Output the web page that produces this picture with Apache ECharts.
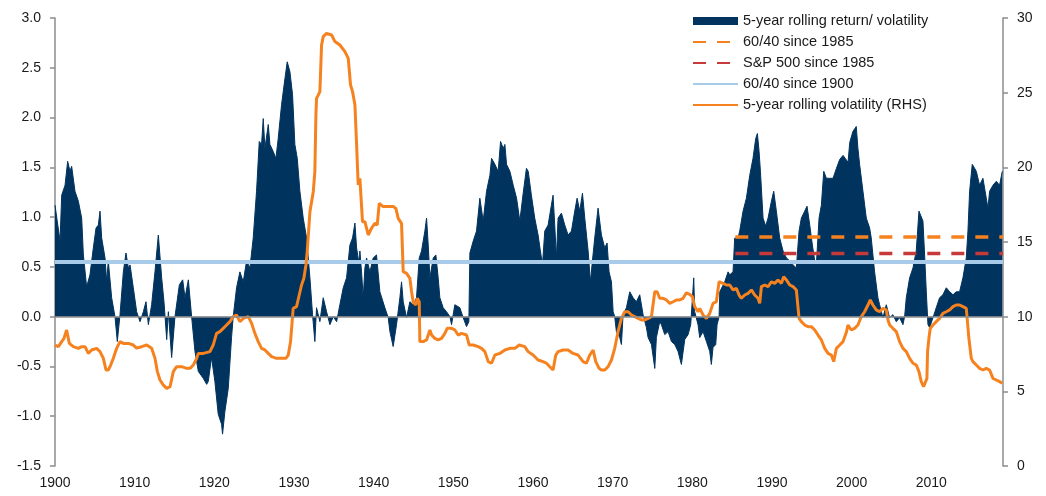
<!DOCTYPE html>
<html>
<head>
<meta charset="utf-8">
<script src="https://cdn.jsdelivr.net/npm/echarts@6/dist/echarts.min.js"></script>
<style>
  html, body { margin: 0; padding: 0; background: #fff; }
  #chart { width: 1046px; height: 496px; }
</style>
</head>
<body>
<div id="chart"></div>
<script>
// 5-year rolling return / volatility (left axis)
const retYears = [
  1900.00, 1900.21, 1900.63, 1900.84, 1901.26, 1901.59, 1901.88, 1902.09, 1902.30, 1902.51,
  1902.93, 1903.14, 1903.35, 1903.56, 1903.97, 1904.39, 1904.81, 1905.15, 1905.44, 1905.65,
  1905.86, 1906.28, 1906.49, 1906.69, 1907.11, 1907.53, 1907.82, 1908.16, 1908.58, 1908.91,
  1909.21, 1909.42, 1909.83, 1910.25, 1910.67, 1911.09, 1911.42, 1911.72, 1912.13, 1912.55,
  1912.97, 1913.39, 1913.68, 1914.02, 1914.23, 1914.64, 1915.06, 1915.61, 1916.03, 1916.32,
  1916.74, 1917.15, 1917.57, 1917.99, 1918.62, 1919.04, 1919.24, 1919.65, 1920.07, 1920.49,
  1920.91, 1921.03, 1921.33, 1921.75, 1922.16, 1922.37, 1922.79, 1923.21, 1923.63, 1924.05,
  1924.47, 1924.88, 1925.30, 1925.64, 1925.93, 1926.14, 1926.35, 1926.77, 1926.98, 1927.39,
  1927.73, 1928.02, 1928.44, 1928.86, 1929.15, 1929.49, 1929.82, 1930.11, 1930.41, 1930.74,
  1931.16, 1931.58, 1932.00, 1932.33, 1932.62, 1932.83, 1933.25, 1933.67, 1934.09, 1934.51,
  1934.93, 1935.35, 1935.76, 1936.18, 1936.60, 1937.02, 1937.35, 1937.65, 1937.86, 1938.19,
  1938.27, 1938.48, 1938.69, 1938.90, 1939.11, 1939.53, 1939.94, 1940.36, 1940.78, 1941.41,
  1941.83, 1942.04, 1942.45, 1942.87, 1943.29, 1943.50, 1943.71, 1944.13, 1944.55, 1944.96,
  1945.38, 1945.72, 1946.01, 1946.43, 1946.64, 1946.85, 1947.06, 1947.48, 1947.81, 1948.10,
  1948.31, 1948.73, 1949.15, 1949.57, 1949.78, 1950.19, 1950.40, 1950.82, 1951.24, 1951.66,
  1951.95, 1952.08, 1952.50, 1952.91, 1953.33, 1953.75, 1954.17, 1954.59, 1954.80, 1955.22,
  1955.63, 1955.93, 1956.26, 1956.47, 1956.68, 1957.10, 1957.52, 1957.94, 1958.35, 1958.77,
  1959.18, 1959.40, 1959.80, 1960.22, 1960.64, 1960.93, 1961.19, 1961.48, 1961.90, 1962.31,
  1962.52, 1962.73, 1962.94, 1963.15, 1963.57, 1963.99, 1964.41, 1964.83, 1965.24, 1965.54,
  1965.87, 1966.21, 1966.50, 1966.92, 1967.21, 1967.46, 1967.75, 1968.17, 1968.59, 1969.01,
  1969.30, 1969.55, 1969.85, 1970.06, 1970.26, 1970.47, 1970.89, 1971.10, 1971.31, 1971.73,
  1972.15, 1972.57, 1972.98, 1973.40, 1973.82, 1974.24, 1974.45, 1974.87, 1975.29, 1975.49,
  1975.91, 1976.12, 1976.54, 1976.96, 1977.38, 1977.80, 1978.21, 1978.63, 1979.05, 1979.47,
  1979.80, 1980.18, 1980.30, 1980.72, 1980.93, 1981.35, 1981.77, 1982.19, 1982.39, 1982.60,
  1982.94, 1983.11, 1983.36, 1983.45, 1983.65, 1984.07, 1984.49, 1984.70, 1985.11, 1985.32,
  1985.74, 1985.95, 1986.37, 1986.79, 1987.21, 1987.62, 1987.96, 1988.17, 1988.38, 1988.55,
  1988.88, 1989.21, 1989.51, 1989.93, 1990.22, 1990.55, 1990.97, 1991.39, 1991.81, 1992.23,
  1992.65, 1993.06, 1993.40, 1993.69, 1994.11, 1994.40, 1994.74, 1995.07, 1995.37, 1995.57,
  1995.91, 1996.20, 1996.50, 1996.83, 1997.25, 1997.67, 1998.09, 1998.51, 1998.92, 1999.13,
  1999.55, 1999.76, 2000.16, 2000.58, 2000.79, 2001.00, 2001.42, 2001.84, 2002.26, 2002.46,
  2002.88, 2003.30, 2003.51, 2003.93, 2004.35, 2004.77, 2005.18, 2005.60, 2006.02, 2006.44,
  2006.65, 2006.86, 2007.28, 2007.70, 2008.11, 2008.45, 2008.62, 2008.95, 2009.16, 2009.37,
  2009.58, 2009.79, 2010.21, 2010.62, 2011.04, 2011.46, 2011.88, 2012.30, 2012.72, 2013.13,
  2013.55, 2013.97, 2014.39, 2014.60, 2014.81, 2015.14, 2015.44, 2015.65, 2016.06, 2016.48,
  2016.90, 2017.11, 2017.32, 2017.74, 2018.16, 2018.57, 2018.91
];
const retValues = [
  1.12, 1.10, 0.76, 1.22, 1.32, 1.56, 1.46, 1.51, 1.49, 1.26,
  1.16, 1.14, 0.99, 0.62, 0.30, 0.42, 0.69, 0.89, 0.92, 1.06,
  0.79, 0.59, 0.35, 0.56, 0.19, 0.00, -0.25, 0.02, 0.45, 0.64,
  0.49, 0.52, 0.29, 0.05, -0.05, 0.05, 0.15, -0.08, 0.12, 0.45,
  0.82, 0.39, 0.15, -0.23, 0.05, -0.41, 0.00, 0.32, 0.37, 0.19,
  0.37, 0.00, -0.35, -0.55, -0.62, -0.68, -0.65, -0.41, -0.65, -0.98,
  -1.08, -1.18, -0.95, -0.72, -0.21, 0.00, 0.29, 0.45, 0.35, 0.56,
  0.49, 0.79, 1.26, 1.76, 1.73, 1.99, 1.69, 1.93, 1.73, 1.66,
  1.59, 1.79, 2.13, 2.39, 2.56, 2.46, 2.23, 1.73, 1.59, 1.26,
  0.99, 0.79, 0.39, 0.02, -0.25, 0.09, -0.05, 0.19, 0.05, -0.08,
  0.00, -0.05, 0.12, 0.29, 0.39, 0.72, 0.79, 0.94, 0.69, 0.52,
  0.66, 0.45, 0.19, 0.49, 0.59, 0.45, 0.59, 0.62, 0.25, 0.09,
  -0.01, -0.15, -0.30, -0.08, 0.19, 0.35, 0.15, -0.01, 0.15, 0.12,
  0.19, 0.59, 0.66, 0.86, 0.99, 0.72, 0.39, 0.59, 0.62, 0.39,
  0.19, 0.09, 0.05, 0.00, -0.08, 0.12, 0.14, 0.09, -0.01, -0.10,
  -0.05, 0.64, 0.76, 0.86, 1.19, 0.96, 1.26, 1.42, 1.59, 1.53,
  1.46, 1.76, 1.69, 1.73, 1.53, 1.46, 1.32, 1.19, 0.96, 1.24,
  1.49, 1.46, 1.22, 0.99, 0.82, 0.66, 0.52, 0.86, 0.92, 1.12,
  1.22, 0.92, 0.59, 0.99, 1.04, 0.92, 0.82, 0.86, 1.06, 1.19,
  1.06, 1.24, 0.99, 0.66, 0.35, 0.56, 0.79, 1.09, 0.82, 0.69,
  0.74, 0.45, 0.35, 0.05, 0.00, -0.15, -0.21, -0.28, 0.02, 0.09,
  0.25, 0.19, 0.15, 0.22, 0.02, -0.11, -0.21, -0.28, -0.52, -0.21,
  -0.05, -0.08, -0.18, -0.15, -0.25, -0.28, -0.35, -0.48, -0.23, -0.18,
  -0.08, 0.39, 0.05, -0.08, -0.21, -0.15, -0.25, -0.35, -0.48, -0.31,
  -0.28, -0.08, 0.00, 0.25, 0.25, 0.35, 0.45, 0.42, 0.45, 0.79,
  0.79, 0.86, 1.06, 1.19, 1.42, 1.59, 1.79, 1.84, 1.66, 1.46,
  0.99, 0.91, 0.99, 1.16, 1.26, 1.06, 0.79, 0.66, 0.59, 0.56,
  0.52, 0.49, 0.86, 0.99, 1.06, 1.11, 0.92, 0.72, 0.56, 0.52,
  0.99, 1.12, 1.46, 1.39, 1.39, 1.39, 1.49, 1.58, 1.62, 1.64,
  1.55, 1.75, 1.86, 1.91, 1.69, 1.53, 1.26, 0.99, 0.89, 0.79,
  0.45, 0.19, 0.12, -0.01, 0.12, -0.01, 0.02, -0.05, -0.01, -0.08,
  0.00, 0.19, 0.39, 0.49, 0.66, 1.06, 1.07, 0.96, 0.62, 0.25,
  -0.08, -0.11, -0.01, 0.09, 0.19, 0.22, 0.29, 0.25, 0.22, 0.25,
  0.25, 0.39, 0.59, 0.86, 1.26, 1.53, 1.49, 1.46, 1.32, 1.39,
  1.19, 1.09, 1.26, 1.32, 1.36, 1.32, 1.46
];

// 5-year rolling volatility (right axis, %)
const volYears = [
  1900.00, 1900.42, 1900.84, 1901.13, 1901.46, 1901.80, 1902.30, 1902.93, 1903.35, 1903.77,
  1904.18, 1904.60, 1905.23, 1905.65, 1906.07, 1906.40, 1906.69, 1906.99, 1907.32, 1907.74,
  1908.16, 1908.58, 1909.21, 1909.83, 1910.25, 1910.88, 1911.51, 1912.13, 1912.55, 1912.85,
  1913.18, 1913.60, 1914.02, 1914.44, 1914.85, 1915.27, 1915.90, 1916.53, 1916.95, 1917.36,
  1917.78, 1917.99, 1918.62, 1918.82, 1919.45, 1919.86, 1920.28, 1920.70, 1921.12, 1921.54,
  1921.96, 1922.37, 1922.79, 1923.21, 1923.63, 1924.26, 1924.68, 1925.09, 1925.51, 1925.93,
  1926.35, 1926.77, 1927.19, 1927.81, 1928.44, 1928.98, 1929.28, 1929.57, 1929.90, 1930.32,
  1930.66, 1930.95, 1931.24, 1931.50, 1931.66, 1932.00, 1932.42, 1932.62, 1932.75, 1932.83,
  1933.04, 1933.25, 1933.46, 1933.67, 1934.09, 1934.72, 1935.14, 1935.76, 1936.39, 1936.81,
  1937.10, 1937.35, 1937.65, 1937.86, 1938.06, 1938.27, 1938.48, 1938.60, 1938.90, 1939.32,
  1939.73, 1940.15, 1940.45, 1940.70, 1941.20, 1941.62, 1942.04, 1942.45, 1942.79, 1943.08,
  1943.50, 1943.71, 1944.13, 1944.55, 1944.76, 1944.96, 1945.30, 1945.47, 1945.72, 1945.80,
  1946.22, 1946.64, 1947.06, 1947.27, 1947.68, 1948.10, 1948.52, 1948.94, 1949.23, 1949.78,
  1950.19, 1950.61, 1951.03, 1951.66, 1952.00, 1952.50, 1953.12, 1953.54, 1953.96, 1954.38,
  1954.80, 1955.22, 1955.84, 1956.47, 1957.10, 1957.73, 1958.27, 1958.97, 1959.39, 1960.01,
  1960.64, 1961.27, 1961.69, 1962.11, 1962.52, 1962.86, 1963.15, 1963.78, 1964.41, 1965.03,
  1965.66, 1966.29, 1966.71, 1967.13, 1967.55, 1967.88, 1968.30, 1968.59, 1969.01, 1969.43,
  1969.85, 1970.26, 1970.68, 1971.10, 1971.52, 1971.94, 1972.36, 1972.77, 1973.19, 1973.61,
  1974.03, 1974.45, 1974.87, 1975.29, 1975.58, 1975.91, 1976.33, 1976.75, 1977.17, 1977.59,
  1978.00, 1978.42, 1978.84, 1979.26, 1979.67, 1980.01, 1980.30, 1980.72, 1980.93, 1981.35,
  1981.77, 1982.19, 1982.60, 1983.02, 1983.36, 1983.86, 1984.28, 1984.70, 1985.11, 1985.53,
  1985.87, 1986.16, 1986.58, 1987.00, 1987.42, 1987.83, 1988.25, 1988.46, 1988.67, 1989.09,
  1989.51, 1989.93, 1990.34, 1990.76, 1991.18, 1991.47, 1991.81, 1992.23, 1992.65, 1993.06,
  1993.40, 1993.69, 1994.11, 1994.53, 1994.95, 1995.37, 1995.78, 1996.20, 1996.62, 1997.04,
  1997.46, 1997.75, 1998.09, 1998.51, 1998.92, 1999.34, 1999.54, 1999.76, 1999.95, 2000.37,
  2000.79, 2001.21, 2001.63, 2002.05, 2002.34, 2002.67, 2003.09, 2003.51, 2003.93, 2004.35,
  2004.56, 2004.77, 2005.18, 2005.60, 2006.02, 2006.44, 2006.86, 2007.28, 2007.70, 2008.11,
  2008.45, 2008.74, 2009.03, 2009.28, 2009.45, 2009.53, 2009.70, 2009.87, 2010.21, 2010.62,
  2011.04, 2011.46, 2011.88, 2012.30, 2012.72, 2013.13, 2013.55, 2013.97, 2014.39, 2014.72,
  2015.02, 2015.23, 2015.65, 2016.06, 2016.48, 2016.90, 2017.32, 2017.74, 2018.16, 2018.57,
  2018.91
];
const volValues = [
  8.10, 7.99, 8.33, 8.55, 9.11, 8.21, 7.99, 7.88, 7.99, 7.99,
  7.54, 7.77, 7.88, 7.66, 7.21, 6.43, 6.43, 6.76, 7.21, 7.88,
  8.33, 8.21, 8.21, 8.10, 7.90, 7.99, 8.10, 7.88, 7.21, 6.32,
  5.76, 5.42, 5.20, 5.31, 6.32, 6.65, 6.65, 6.54, 6.54, 6.76,
  7.21, 7.54, 7.54, 7.43, 7.66, 8.10, 8.88, 9.00, 9.22, 9.44,
  9.67, 10.00, 10.11, 9.67, 9.89, 10.00, 9.55, 8.88, 8.33, 7.88,
  7.77, 7.54, 7.32, 7.21, 7.21, 7.21, 7.43, 8.33, 10.56, 10.67,
  11.45, 12.12, 12.57, 13.46, 14.35, 17.03, 18.37, 19.71, 23.50, 24.62,
  24.84, 25.07, 28.19, 28.75, 28.97, 28.86, 28.42, 28.19, 27.75, 27.30,
  25.51, 25.07, 24.17, 21.50, 18.82, 19.26, 19.38, 16.36, 16.36, 15.47,
  15.92, 16.25, 16.14, 17.59, 17.37, 17.37, 17.37, 17.37, 17.25, 16.58,
  16.25, 13.01, 12.90, 12.57, 11.67, 11.00, 10.78, 11.23, 11.00, 8.33,
  8.33, 8.44, 9.11, 8.77, 8.55, 8.44, 8.55, 8.88, 9.22, 9.22,
  9.11, 8.77, 8.88, 8.77, 8.10, 8.10, 7.99, 7.88, 7.66, 6.99,
  6.88, 7.43, 7.54, 7.77, 7.88, 7.88, 8.10, 7.99, 7.66, 7.43,
  7.10, 6.99, 6.88, 6.65, 6.43, 7.43, 7.66, 7.77, 7.77, 7.54,
  7.43, 6.99, 6.88, 7.43, 7.77, 6.99, 6.54, 6.43, 6.43, 6.65,
  7.10, 7.88, 9.00, 9.89, 10.33, 10.33, 10.11, 10.00, 9.89, 9.78,
  9.78, 9.89, 10.00, 11.67, 11.67, 11.23, 11.23, 11.12, 10.89, 11.00,
  11.12, 11.12, 11.23, 11.60, 11.50, 11.34, 10.67, 10.33, 10.56, 10.11,
  9.89, 10.22, 10.89, 11.00, 12.34, 12.23, 12.12, 12.12, 11.79, 11.90,
  11.45, 11.23, 11.45, 11.56, 11.79, 11.45, 11.23, 10.89, 12.01, 12.12,
  12.01, 12.34, 12.23, 12.46, 12.23, 12.68, 12.46, 12.12, 12.01, 11.79,
  9.89, 9.67, 9.44, 9.33, 9.33, 9.11, 8.77, 8.44, 7.88, 7.54,
  7.43, 6.99, 7.88, 8.10, 8.33, 8.95, 9.44, 9.55, 9.11, 9.22,
  9.44, 10.00, 10.33, 10.78, 11.12, 10.78, 10.45, 10.33, 10.56, 10.45,
  9.78, 9.44, 9.22, 9.00, 8.33, 7.88, 7.66, 7.21, 6.88, 6.76,
  6.32, 5.65, 5.31, 5.31, 5.87, 7.66, 8.55, 9.22, 9.44, 9.67,
  9.89, 10.22, 10.33, 10.45, 10.67, 10.78, 10.78, 10.67, 10.56, 8.55,
  7.21, 6.99, 6.76, 6.54, 6.43, 6.54, 6.43, 5.87, 5.76, 5.65,
  5.54
];

// averages (left axis)
const avgNames = ['60/40 since 1985', 'S&P 500 since 1985', '60/40 since 1900'];
const avgValues = [0.80, 0.635, 0.55];
const avgFrom = [1985.4, 1985.4, 1900];
const avgTo = 2019;

const retName = '5-year rolling return/ volatility';
const volName = '5-year rolling volatility (RHS)';

const FONT = '"Liberation Sans", Arial, sans-serif';
const axisGray = '#8c8c8c';

const myChart = echarts.init(document.getElementById('chart'));

const avgStyles = [
  { color: '#f5821f', width: 3.5, type: [13, 11] },
  { color: '#c63a3a', width: 3.5, type: [13, 11] },
  { color: '#a8cbea', width: 4, type: 'solid' }
];

const avgSeries = avgNames.map((name, i) => ({
  name: name,
  type: 'line',
  symbol: 'none',
  silent: true,
  data: [[avgFrom[i], avgValues[i]], [avgTo, avgValues[i]]],
  lineStyle: avgStyles[i],
  itemStyle: { color: avgStyles[i].color }
}));

// hide the circle the legend puts on line icons
const noDot = { opacity: 0 };

myChart.setOption({
  animation: false,
  textStyle: { fontFamily: FONT },
  grid: { left: 55, right: 43, top: 18, bottom: 30 },
  legend: {
    orient: 'vertical',
    left: 692,
    top: 13,
    padding: 0,
    itemWidth: 45,
    itemHeight: 8,
    itemGap: 5,
    textStyle: { fontSize: 14.5, color: '#1a1a1a', fontFamily: FONT, lineHeight: 16 },
    data: [
      { name: retName, icon: 'rect' },
      { name: avgNames[0], itemStyle: noDot },
      { name: avgNames[1], itemStyle: noDot },
      { name: avgNames[2], itemStyle: noDot },
      { name: volName, itemStyle: noDot }
    ]
  },
  xAxis: {
    type: 'value',
    min: 1900,
    max: 2019,
    interval: 10,
    axisLine: { show: false, onZero: false },
    axisTick: { show: false },
    splitLine: { show: false },
    axisLabel: {
      color: '#1a1a1a', fontSize: 14, margin: 10, showMaxLabel: false,
      formatter: v => String(v)
    }
  },
  yAxis: [
    {
      type: 'value',
      min: -1.5,
      max: 3.0,
      interval: 0.5,
      axisLine: { show: true, lineStyle: { color: axisGray, width: 1.5 } },
      axisTick: { show: true, length: 5, lineStyle: { color: axisGray, width: 1.5 } },
      splitLine: { show: false },
      axisLabel: { color: '#1a1a1a', fontSize: 14, margin: 14, formatter: v => v.toFixed(1) }
    },
    {
      type: 'value',
      min: 0,
      max: 30,
      interval: 5,
      position: 'right',
      axisLine: { show: true, lineStyle: { color: axisGray, width: 1.5 } },
      axisTick: { show: true, length: 5, lineStyle: { color: axisGray, width: 1.5 } },
      splitLine: { show: false },
      axisLabel: { color: '#1a1a1a', fontSize: 14, margin: 14 }
    }
  ],
  series: [
    {
      name: retName,
      type: 'line',
      symbol: 'none',
      silent: true,
      data: retYears.map((y, i) => [y, retValues[i]]),
      lineStyle: { color: '#00335e', width: 1 },
      itemStyle: { color: '#00335e' },
      areaStyle: { color: '#00335e', opacity: 1 },
      markLine: {
        silent: true,
        symbol: 'none',
        label: { show: false },
        lineStyle: { color: '#8c8c8c', width: 1.5, type: 'solid' },
        data: [{ yAxis: 0 }]
      }
    },
    avgSeries[2],
    avgSeries[0],
    avgSeries[1],
    {
      name: volName,
      type: 'line',
      yAxisIndex: 1,
      symbol: 'none',
      silent: true,
      data: volYears.map((y, i) => [y, volValues[i]]),
      lineStyle: { color: '#f5821f', width: 3 },
      itemStyle: { color: '#f5821f' }
    }
  ]
});
</script>
</body>
</html>
